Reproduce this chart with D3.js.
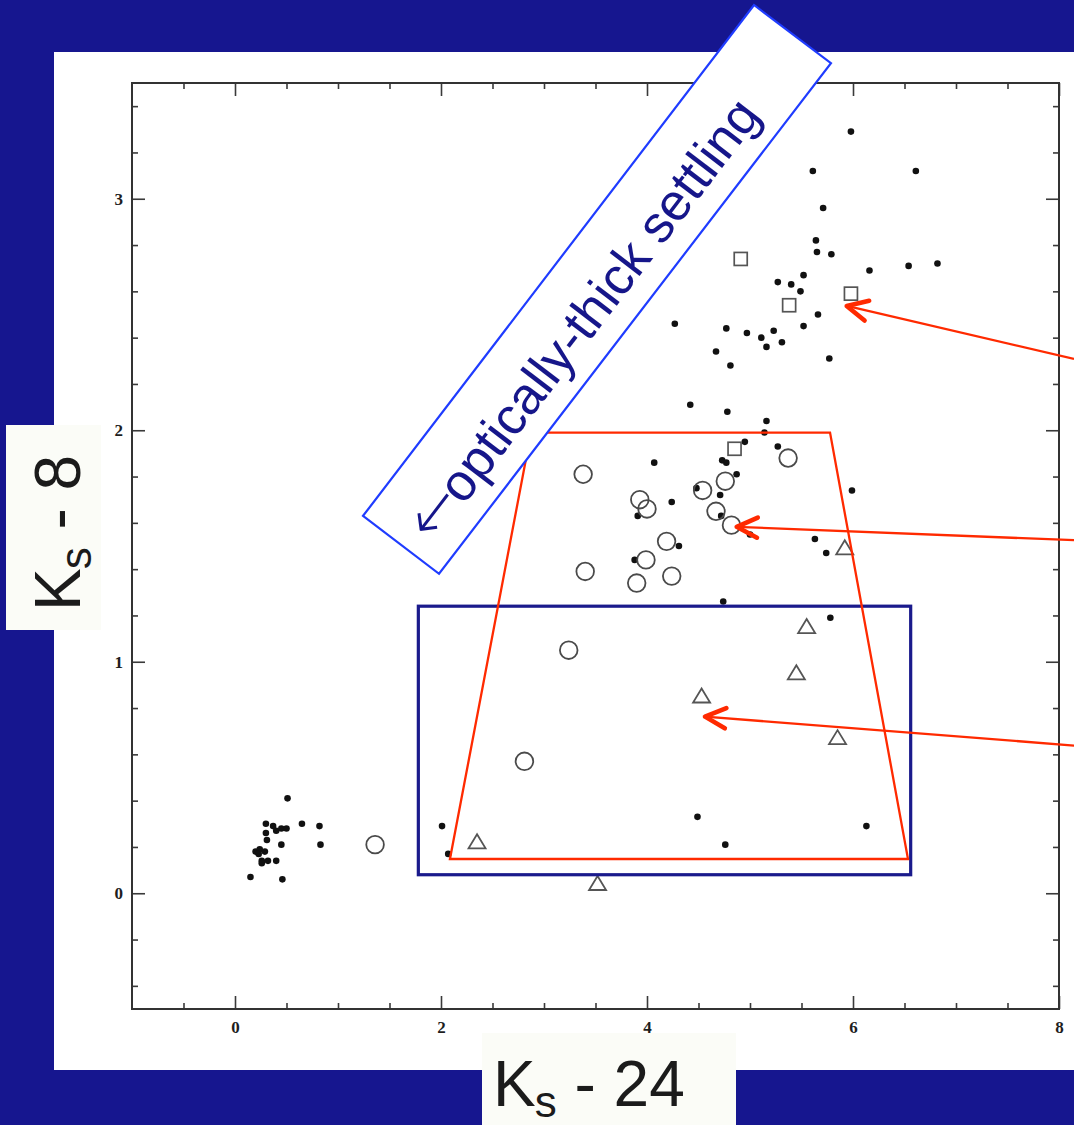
<!DOCTYPE html>
<html>
<head>
<meta charset="utf-8">
<script src="https://cdn.jsdelivr.net/npm/d3@7"></script>
<style>
  html, body { margin: 0; padding: 0; background: #16168f; }
  svg { display: block; }
  text { white-space: pre; }
</style>
</head>
<body>
<svg id="chart" width="1074" height="1125"></svg>
<script>
// ---- axis ticks ----
const xMajorTicks = [0, 2, 4, 6, 8];
const yMajorTicks = [0, 1, 2, 3];

// ---- filled dots (K_s - 24, K_s - 8) ----
const dotX = [0.51, 0.30, 0.37, 0.40, 0.45, 0.50, 0.65, 0.82, 0.30, 0.31, 0.45, 0.83, 0.20, 0.24, 0.29, 0.23, 0.26, 0.26, 0.32, 0.40, 0.15, 0.46,
  2.01, 2.07, 4.49, 4.76, 6.13, 5.78, 4.74,
  4.42, 4.78, 5.16, 5.14, 4.95, 5.27, 4.07, 4.73, 4.77, 4.87, 4.48, 4.71, 3.91, 4.24, 4.72, 5.00, 5.99, 4.31, 5.63, 5.74, 3.88,
  5.98, 5.61, 6.61, 5.71, 5.64, 5.65, 5.79, 6.16, 6.54, 6.82, 5.52, 5.27, 5.40, 5.49, 5.66, 4.27, 4.77, 5.23, 4.97, 5.11, 5.52, 5.31, 5.16, 4.67, 4.81, 5.77];
const dotY = [0.41, 0.30, 0.29, 0.27, 0.28, 0.28, 0.30, 0.29, 0.26, 0.23, 0.21, 0.21, 0.18, 0.19, 0.18, 0.17, 0.14, 0.13, 0.14, 0.14, 0.07, 0.06,
  0.29, 0.17, 0.33, 0.21, 0.29, 1.19, 1.26,
  2.11, 2.08, 2.04, 1.99, 1.95, 1.93, 1.86, 1.87, 1.86, 1.81, 1.75, 1.72, 1.63, 1.69, 1.63, 1.55, 1.74, 1.50, 1.53, 1.47, 1.44,
  3.29, 3.12, 3.12, 2.96, 2.82, 2.77, 2.76, 2.69, 2.71, 2.72, 2.67, 2.64, 2.63, 2.60, 2.50, 2.46, 2.44, 2.43, 2.42, 2.40, 2.45, 2.38, 2.36, 2.34, 2.28, 2.31];

// ---- open circles ----
const circleX = [1.36, 2.81, 3.24, 3.38, 5.37, 4.76, 4.54, 3.93, 4.00, 4.67, 4.82, 4.19, 3.99, 3.40, 4.24, 3.90];
const circleY = [0.21, 0.57, 1.05, 1.81, 1.88, 1.78, 1.74, 1.70, 1.66, 1.65, 1.59, 1.52, 1.44, 1.39, 1.37, 1.34];

// ---- open squares ----
const squareX = [4.91, 5.98, 5.38, 4.85];
const squareY = [2.74, 2.59, 2.54, 1.92];

// ---- open triangles ----
const triangleX = [2.35, 3.52, 4.53, 5.85, 5.45, 5.55, 5.92];
const triangleY = [0.22, 0.04, 0.85, 0.67, 0.95, 1.15, 1.49];

// ---- overlays (data coordinates) ----
const redRegionX = [2.087, 2.874, 5.777, 6.534];
const redRegionY = [0.148, 1.99, 1.99, 0.148];
const navyBoxX = [1.78, 6.56];
const navyBoxY = [0.08, 1.24];
const arrowTipX = [5.939, 4.871, 4.563];
const arrowTipY = [2.537, 1.583, 0.763];
const arrowTailX = [8.146, 8.146, 8.146];
const arrowTailY = [2.308, 1.525, 0.638];
const labelBoxX = [1.243, 1.981, 5.786, 5.039];
const labelBoxY = [1.630, 1.380, 3.586, 3.837];
const labelArrow = "\u2190";
const labelText = "optically-thick settling";

// ---- layout ----
const W = 1074, H = 1125;
const svg = d3.select("#chart");

const x = d3.scaleLinear().domain([-1, 8]).range([132, 1059]);
const y = d3.scaleLinear().domain([-0.5, 3.5]).range([1009, 83]);

// background and white panel
svg.append("rect").attr("width", W).attr("height", H).attr("fill", "#16168f");
svg.append("rect").attr("x", 54).attr("y", 52).attr("width", W - 54).attr("height", 1070 - 52).attr("fill", "#ffffff");

// ---- axes: ticks point inward on all four sides ----
const xMinor = x.ticks(18).filter(v => !xMajorTicks.includes(v) && v > -1 && v < 8);
const yMinor = y.ticks(16).filter(v => !yMajorTicks.includes(v) && v > -0.5 && v < 3.5);

function styleAxis(g) {
  g.select(".domain").remove();
  g.selectAll(".tick line").attr("stroke", "#3a3a3a").attr("stroke-width", 1.6);
  g.selectAll(".tick text")
    .attr("font-family", "'Liberation Serif', 'Times New Roman', serif")
    .attr("font-weight", "bold")
    .attr("font-size", 17)
    .attr("fill", "#1e1e1e");
}

const axes = svg.append("g");
// bottom
axes.append("g").attr("transform", "translate(0,1009)")
  .call(d3.axisBottom(x).tickValues(xMinor).tickSize(-6).tickFormat("")).call(styleAxis);
axes.append("g").attr("transform", "translate(0,1009)")
  .call(d3.axisBottom(x).tickValues(xMajorTicks).tickSize(-13).tickPadding(12).tickFormat(d3.format("d"))).call(styleAxis);
// top
axes.append("g").attr("transform", "translate(0,83)")
  .call(d3.axisTop(x).tickValues(xMinor).tickSize(-6).tickFormat("")).call(styleAxis);
axes.append("g").attr("transform", "translate(0,83)")
  .call(d3.axisTop(x).tickValues(xMajorTicks).tickSize(-13).tickFormat("")).call(styleAxis);
// left
axes.append("g").attr("transform", "translate(132,0)")
  .call(d3.axisLeft(y).tickValues(yMinor).tickSize(-6).tickFormat("")).call(styleAxis);
axes.append("g").attr("transform", "translate(132,0)")
  .call(d3.axisLeft(y).tickValues(yMajorTicks).tickSize(-13).tickPadding(9).tickFormat(d3.format("d"))).call(styleAxis);
// right
axes.append("g").attr("transform", "translate(1059,0)")
  .call(d3.axisRight(y).tickValues(yMinor).tickSize(-6).tickFormat("")).call(styleAxis);
axes.append("g").attr("transform", "translate(1059,0)")
  .call(d3.axisRight(y).tickValues(yMajorTicks).tickSize(-13).tickFormat("")).call(styleAxis);

// frame
svg.append("rect")
  .attr("x", x(-1)).attr("y", y(3.5))
  .attr("width", x(8) - x(-1)).attr("height", y(-0.5) - y(3.5))
  .attr("fill", "none").attr("stroke", "#333").attr("stroke-width", 2);

// ---- data marks ----
const marks = svg.append("g");

marks.selectAll("circle.dot").data(d3.zip(dotX, dotY)).join("circle")
  .attr("class", "dot")
  .attr("cx", d => x(d[0])).attr("cy", d => y(d[1]))
  .attr("r", 3.3).attr("fill", "#111");

marks.selectAll("circle.ring").data(d3.zip(circleX, circleY)).join("circle")
  .attr("class", "ring")
  .attr("cx", d => x(d[0])).attr("cy", d => y(d[1]))
  .attr("r", 8.8).attr("fill", "none").attr("stroke", "#4a4a4a").attr("stroke-width", 1.8);

const sq = 13;
marks.selectAll("rect.sq").data(d3.zip(squareX, squareY)).join("rect")
  .attr("class", "sq")
  .attr("x", d => x(d[0]) - sq / 2).attr("y", d => y(d[1]) - sq / 2)
  .attr("width", sq).attr("height", sq)
  .attr("fill", "none").attr("stroke", "#555").attr("stroke-width", 1.7);

marks.selectAll("path.tri").data(d3.zip(triangleX, triangleY)).join("path")
  .attr("class", "tri")
  .attr("d", d => {
    const cx = x(d[0]), cy = y(d[1]);
    return `M${cx},${cy - 8}L${cx + 8.5},${cy + 6}L${cx - 8.5},${cy + 6}Z`;
  })
  .attr("fill", "none").attr("stroke", "#555").attr("stroke-width", 1.8).attr("stroke-linejoin", "miter");

// ---- overlays ----
const overlay = svg.append("g");

// navy selection box
overlay.append("rect")
  .attr("x", x(navyBoxX[0])).attr("y", y(navyBoxY[1]))
  .attr("width", x(navyBoxX[1]) - x(navyBoxX[0]))
  .attr("height", y(navyBoxY[0]) - y(navyBoxY[1]))
  .attr("fill", "none").attr("stroke", "#1a1a8c").attr("stroke-width", 3.2);

// red region
const polyLine = d3.line().x(d => x(d[0])).y(d => y(d[1])).curve(d3.curveLinearClosed);
overlay.append("path")
  .attr("d", polyLine(d3.zip(redRegionX, redRegionY)))
  .attr("fill", "none").attr("stroke", "#ff2a00").attr("stroke-width", 2.3);

// red arrows pointing at the three marker groups
const red = "#ff2a00";
d3.range(arrowTipX.length).forEach(i => {
  const tx = x(arrowTipX[i]), ty = y(arrowTipY[i]);
  const sx = x(arrowTailX[i]), sy = y(arrowTailY[i]);
  overlay.append("line")
    .attr("x1", sx).attr("y1", sy).attr("x2", tx).attr("y2", ty)
    .attr("stroke", red).attr("stroke-width", 2.3);
  const ang = Math.atan2(sy - ty, sx - tx);
  const len = 23, spread = 26 * Math.PI / 180;
  const w1 = [tx + len * Math.cos(ang - spread), ty + len * Math.sin(ang - spread)];
  const w2 = [tx + len * Math.cos(ang + spread), ty + len * Math.sin(ang + spread)];
  overlay.append("path")
    .attr("d", `M${w1[0]},${w1[1]}L${tx},${ty}L${w2[0]},${w2[1]}`)
    .attr("fill", "none").attr("stroke", red).attr("stroke-width", 4.6)
    .attr("stroke-linecap", "round").attr("stroke-linejoin", "round");
});

// rotated label box
const corners = d3.zip(labelBoxX, labelBoxY).map(d => [x(d[0]), y(d[1])]);
overlay.append("path")
  .attr("d", polyLine(d3.zip(labelBoxX, labelBoxY)))
  .attr("fill", "#ffffff").attr("stroke", "#1f3cff").attr("stroke-width", 2.2);

const mid = [(corners[0][0] + corners[1][0]) / 2, (corners[0][1] + corners[1][1]) / 2];
const angle = Math.atan2(corners[3][1] - corners[0][1], corners[3][0] - corners[0][0]) * 180 / Math.PI;
const note = overlay.append("text")
  .attr("transform", `translate(${mid[0]},${mid[1]}) rotate(${angle})`)
  .attr("x", 20).attr("y", 26)
  .attr("font-family", "'Liberation Sans', Arial, Helvetica, sans-serif")
  .attr("font-size", 52)
  .attr("fill", "#16168a");
note.append("tspan")
  .attr("font-family", "'DejaVu Sans', sans-serif")
  .attr("font-size", 62)
  .attr("font-weight", 300)
  .text(labelArrow);
note.append("tspan").attr("dx", -3).text(labelText);

// ---- axis titles on light boxes ----
const titleFill = "#fbfcf7";
svg.append("rect").attr("x", 6).attr("y", 425).attr("width", 95).attr("height", 205).attr("fill", titleFill);
svg.append("rect").attr("x", 482).attr("y", 1033).attr("width", 254).attr("height", 92).attr("fill", titleFill);

function axisTitle(transform, tail) {
  const t = svg.append("text")
    .attr("transform", transform)
    .attr("font-family", "'Liberation Sans', Arial, Helvetica, sans-serif")
    .attr("font-size", 64)
    .attr("fill", "#1b1b1b");
  t.append("tspan").text("K");
  t.append("tspan").attr("font-size", 44).attr("dx", -1).attr("dy", 11).text("s");
  t.append("tspan").attr("dy", -11).text(" - " + tail);
}
axisTitle("translate(80,611) rotate(-90)", "8");
axisTitle("translate(493,1106)", "24");
</script>
</body>
</html>
